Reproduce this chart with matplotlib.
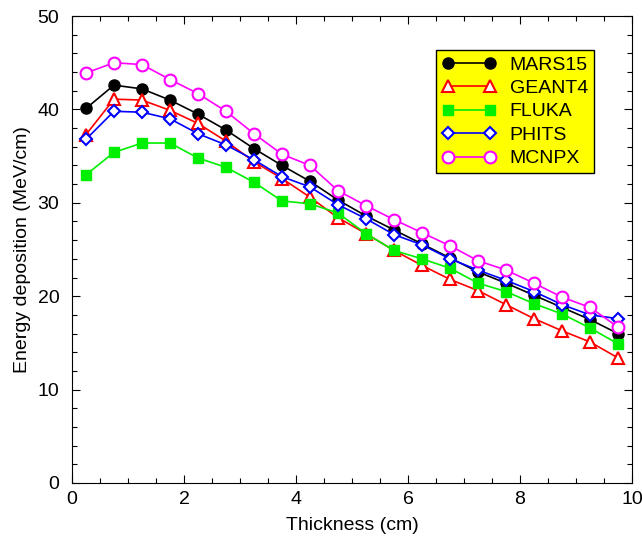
import matplotlib
matplotlib.use("Agg")
import matplotlib.pyplot as plt
from matplotlib.ticker import MultipleLocator

plt.rcParams['font.family'] = ['Liberation Sans', 'DejaVu Sans']

# bin centres along the target thickness (cm)
thickness = [0.25, 0.75, 1.25, 1.75, 2.25, 2.75, 3.25, 3.75, 4.25, 4.75,
             5.25, 5.75, 6.25, 6.75, 7.25, 7.75, 8.25, 8.75, 9.25, 9.75]

# energy deposition (MeV/cm)
mars15 = [40.1, 42.6, 42.2, 41.0, 39.5, 37.8, 35.8, 34.0, 32.3, 30.3,
          28.6, 27.1, 25.6, 24.1, 22.6, 21.4, 20.1, 18.8, 17.5, 16.0]
geant4 = [37.3, 41.1, 41.0, 39.9, 38.5, 36.6, 34.4, 32.6, 30.6, 28.4,
          26.7, 24.9, 23.3, 21.8, 20.6, 19.1, 17.6, 16.3, 15.1, 13.4]
fluka = [33.0, 35.4, 36.4, 36.4, 34.8, 33.8, 32.2, 30.2, 29.9, 28.9,
         26.7, 24.9, 24.0, 23.0, 21.4, 20.5, 19.2, 18.1, 16.6, 14.9]
phits = [36.8, 39.8, 39.7, 39.0, 37.4, 36.2, 34.6, 32.8, 31.7, 29.8,
         28.3, 26.6, 25.5, 24.0, 22.8, 21.7, 20.5, 19.1, 18.0, 17.6]
mcnpx = [43.9, 45.0, 44.8, 43.2, 41.7, 39.8, 37.4, 35.2, 34.0, 31.3,
         29.7, 28.2, 26.8, 25.4, 23.8, 22.8, 21.4, 19.9, 18.8, 16.7]

fig = plt.figure(figsize=(6.42, 5.36), dpi=100)
ax = fig.add_axes([0.1121, 0.0989, 0.8723, 0.8712])

ax.plot(thickness, mars15, color='black', lw=1.2, marker='o', ms=8,
        mfc='black', mec='black', label='MARS15')
ax.plot(thickness, geant4, color='red', lw=1.2, marker='^', ms=9,
        mfc='white', mec='red', mew=1.5, label='GEANT4')
ax.plot(thickness, fluka, color='#00ee00', lw=1.2, marker='s', ms=7.5,
        mfc='#00ee00', mec='#00ee00', label='FLUKA')
ax.plot(thickness, phits, color='blue', lw=1.2, marker='D', ms=6.5,
        mfc='white', mec='blue', mew=1.5, label='PHITS')
ax.plot(thickness, mcnpx, color='#ff00ff', lw=1.2, marker='o', ms=8.5,
        mfc='white', mec='#ff00ff', mew=1.5, label='MCNPX')

ax.set_xlim(0, 10)
ax.set_ylim(0, 50)
ax.xaxis.set_major_locator(MultipleLocator(2))
ax.xaxis.set_minor_locator(MultipleLocator(0.5))
ax.yaxis.set_major_locator(MultipleLocator(10))
ax.yaxis.set_minor_locator(MultipleLocator(2))
ax.tick_params(which='both', direction='in', top=True, right=True, labelsize=14)
ax.tick_params(which='major', length=6, width=0.8)
ax.tick_params(which='minor', length=3.5, width=0.8)
ax.tick_params(axis='x', pad=6)
ax.tick_params(axis='y', pad=9)

ax.set_xlabel('Thickness (cm)', fontsize=14, labelpad=6)
ax.set_ylabel('Energy deposition (MeV/cm)', fontsize=14, labelpad=5)

leg = ax.legend(loc='upper right', bbox_to_anchor=(0.932, 0.927), borderaxespad=0,
                numpoints=2, handlelength=2.8, handletextpad=0.7, labelspacing=0.3,
                fontsize=14, fancybox=False, framealpha=1, borderpad=0.3)
leg.get_frame().set_facecolor('yellow')
leg.get_frame().set_edgecolor('black')
leg.get_frame().set_linewidth(1.0)

fig.savefig('out.png', dpi=100)
